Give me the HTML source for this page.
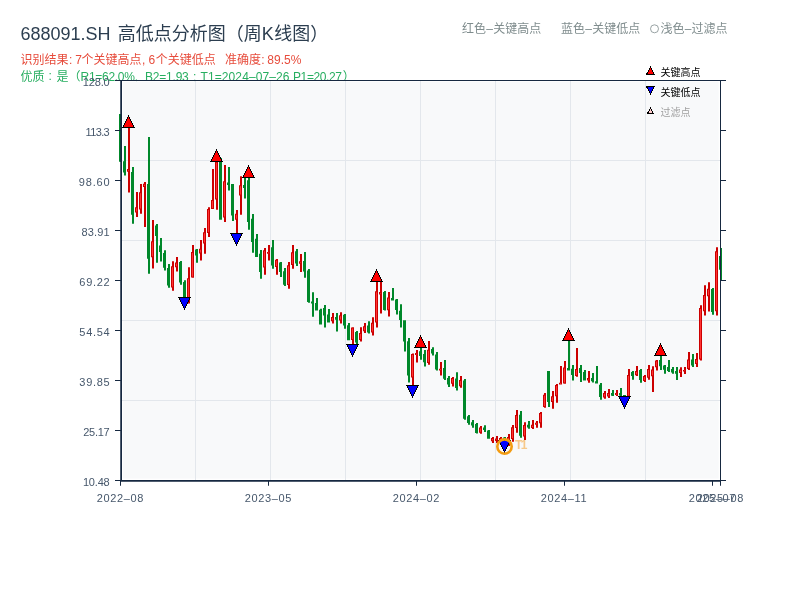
<!DOCTYPE html>
<html lang="zh"><head><meta charset="utf-8"><title>688091.SH 高低点分析图（周K线图）</title>
<style>html,body{margin:0;padding:0;background:#fff}body{width:800px;height:600px;overflow:hidden;position:relative}svg{position:absolute;left:0;top:0;display:block;will-change:transform}text{font-family:"Liberation Sans","Noto Sans CJK SC",sans-serif;white-space:pre}</style></head><body>
<svg width="800" height="600" viewBox="0 0 800 600">
<rect width="800" height="600" fill="#fff"/>
<g id="title">
<text x="20.5" y="40" font-size="18" fill="#2c3e50" textLength="90" lengthAdjust="spacing">688091.SH</text>
<text x="117.7" y="39.8" font-size="18" fill="#2c3e50" textLength="144" lengthAdjust="spacing">高低点分析图（周</text>
<text x="261.7" y="40" font-size="18" fill="#2c3e50">K</text>
<text x="274.2" y="39.8" font-size="18" fill="#2c3e50" textLength="54" lengthAdjust="spacing">线图）</text>
</g>
<g id="sub1">
<text x="20.6" y="63.9" font-size="12" fill="#e74c3c" textLength="48" lengthAdjust="spacing">识别结果</text>
<text x="69" y="63.7" font-size="12" fill="#e74c3c">:</text>
<text x="75.2" y="63.7" font-size="12" fill="#e74c3c">7</text>
<text x="81.5" y="63.9" font-size="12" fill="#e74c3c" textLength="60" lengthAdjust="spacing">个关键高点</text>
<text x="142" y="63.7" font-size="12" fill="#e74c3c">,</text>
<text x="148.6" y="63.7" font-size="12" fill="#e74c3c">6</text>
<text x="155.7" y="63.9" font-size="12" fill="#e74c3c" textLength="60" lengthAdjust="spacing">个关键低点</text>
<text x="225.1" y="63.9" font-size="12" fill="#e74c3c" textLength="36" lengthAdjust="spacing">准确度</text>
<text x="261.3" y="63.7" font-size="12" fill="#e74c3c">:</text>
<text x="267.3" y="63.7" font-size="12" fill="#e74c3c" textLength="34" lengthAdjust="spacing">89.5%</text>
</g>
<g id="sub2">
<text x="20.5" y="81.4" font-size="12" fill="#27ae60" textLength="24" lengthAdjust="spacing">优质</text>
<text x="48.6" y="80.4" font-size="12" fill="#27ae60">:</text>
<text x="56.6" y="81.4" font-size="12" fill="#27ae60" textLength="24" lengthAdjust="spacing">是（</text>
<text x="80.5" y="80.9" font-size="12" fill="#27ae60" textLength="57.5" lengthAdjust="spacing">R1=62.0%,</text>
<text x="145" y="80.9" font-size="12" fill="#27ae60" textLength="43.8" lengthAdjust="spacing">B2=1.93</text>
<text x="193" y="80.9" font-size="12" fill="#27ae60">;</text>
<text x="200.5" y="80.9" font-size="12" fill="#27ae60" textLength="89" lengthAdjust="spacing">T1=2024–07–26</text>
<text x="293" y="80.9" font-size="12" fill="#27ae60" textLength="49" lengthAdjust="spacing">P1=20.27</text>
<text x="342.7" y="81.4" font-size="12" fill="#27ae60">）</text>
</g>
<g id="toplegend">
<text x="462" y="33.2" font-size="12" fill="#7f8c8d" textLength="24" lengthAdjust="spacing">红色</text>
<text x="486.2" y="33.3" font-size="12" fill="#7f8c8d">–</text>
<text x="493.2" y="33.2" font-size="12" fill="#7f8c8d" textLength="48" lengthAdjust="spacing">关键高点</text>
<text x="561" y="33.2" font-size="12" fill="#7f8c8d" textLength="24" lengthAdjust="spacing">蓝色</text>
<text x="585.2" y="33.3" font-size="12" fill="#7f8c8d">–</text>
<text x="592.2" y="33.2" font-size="12" fill="#7f8c8d" textLength="48" lengthAdjust="spacing">关键低点</text>
<circle cx="654.5" cy="28.8" r="4" fill="none" stroke="#7f8c8d" stroke-width="0.8"/>
<text x="660.5" y="33.2" font-size="12" fill="#7f8c8d" textLength="24" lengthAdjust="spacing">浅色</text>
<text x="684.7" y="33.3" font-size="12" fill="#7f8c8d">–</text>
<text x="691.5" y="33.2" font-size="12" fill="#7f8c8d" textLength="36" lengthAdjust="spacing">过滤点</text>
</g>
<rect x="123" y="81.3" width="595.7" height="397.3" fill="#f8f9fa"/>
<rect x="120" y="80" width="601" height="1.5" fill="#fff"/>
<path d="M195 81h1V480h-1zM270 81h1V480h-1zM345 81h1V480h-1zM420 81h1V480h-1zM495 81h1V480h-1zM570 81h1V480h-1zM645 81h1V480h-1zM122 160H720v1H122zM122 240H720v1H122zM122 320H720v1H122zM122 400H720v1H122z" fill="#e3e7ec"/>
<g id="candles">
<path d="M120 114h2V162h-2zM119 114h3V161.75h-3zM124 146h2V175.6h-2zM123 161.2h3V172.5h-3zM132 167h2V223.75h-2zM131 172h3V214.75h-3zM148 137h2V273.75h-2zM147 184h3V258.75h-3zM156 224h2V262.75h-2zM155 225.6h3V236h-3zM160 238h2V261.5h-2zM159 245.6h3V251.9h-3zM164 250.25h2V270.6h-2zM163 253.1h3V267.75h-3zM168 264.1h2V287.75h-2zM167 268.1h3V285.6h-3zM180 261h2V284.75h-2zM179 261.9h3V282.5h-3zM184 280.25h2V303h-2zM183 282h3V298h-3zM196 249h2V262.75h-2zM195 249.4h3V255.6h-3zM220 158h2V219.75h-2zM219 158.75h3V219.75h-3zM228 166.9h2V190.6h-2zM227 182.5h3V185h-3zM232 184h2V221h-2zM231 184h3V215.6h-3zM244 177h2V198.5h-2zM243 185h3V188.1h-3zM248 171h2V229.75h-2zM247 180.25h3V221.9h-3zM252 214h2V252.75h-2zM251 218.75h3V241.9h-3zM256 234h2V256.9h-2zM255 238.75h3V256.9h-3zM260 250h2V278.75h-2zM259 253.75h3V271.9h-3zM272 240h2V268.75h-2zM271 247.25h3V265.6h-3zM280 261.9h2V276.9h-2zM279 262.5h3V271.9h-3zM284 268.1h2V286h-2zM283 271.25h3V284.75h-3zM296 249h2V266h-2zM295 251.25h3V263.5h-3zM304 251.9h2V277.75h-2zM303 261h3V271.5h-3zM308 269h2V302.75h-2zM307 270.6h3V301.9h-3zM312 292.25h2V316.7h-2zM311 301.5h3V303.5h-3zM316 298.1h2V310.6h-2zM315 303.1h3V310.6h-3zM320 308.75h2V324.4h-2zM319 309.75h3V324.4h-3zM324 305h2V327.5h-2zM323 308.1h3V315.6h-3zM328 309h2V322.6h-2zM327 314.4h3V322.5h-3zM336 313.1h2V331.5h-2zM335 316.9h3V319.75h-3zM344 314h2V328.75h-2zM343 314.75h3V325.6h-3zM348 323.1h2V340.25h-2zM347 325.25h3V340.25h-3zM356 331h2V345h-2zM355 331.9h3V342.5h-3zM368 321.25h2V333.5h-2zM367 325.6h3V332.5h-3zM384 291h2V310.6h-2zM383 291.9h3V310h-3zM392 288.1h2V300.6h-2zM391 298.1h3V300.6h-3zM396 299h2V314.4h-2zM395 299.4h3V310h-3zM400 304.2h2V327.5h-2zM399 310.8h3V320.1h-3zM404 320.25h2V351.5h-2zM403 320.25h3V341.5h-3zM408 338.1h2V382.5h-2zM407 341.25h3V375.6h-3zM420 341h2V359.75h-2zM419 351.25h3V356h-3zM424 350h2V366.5h-2zM423 354h3V362.25h-3zM432 347.25h2V355.6h-2zM431 349h3V353.5h-3zM436 351.9h2V370.6h-2zM435 354.4h3V369.4h-3zM444 360h2V380h-2zM443 368.1h3V378.75h-3zM448 376h2V386.9h-2zM447 378.1h3V384.4h-3zM456 372.25h2V390.6h-2zM455 378.5h3V388.1h-3zM464 379h2V419.75h-2zM463 380.6h3V418.75h-3zM468 415h2V424.75h-2zM467 416.25h3V423.1h-3zM472 420h2V427.75h-2zM471 422.25h3V425.6h-3zM476 423.1h2V433.5h-2zM475 424h3V433.1h-3zM484 425.25h2V431.9h-2zM483 427.5h3V430h-3zM488 430h2V438.75h-2zM487 430.6h3V438.75h-3zM504 437h2V446h-2zM503 437.5h3V441h-3zM520 411h2V437.8h-2zM519 414.75h3V435.7h-3zM528 421h2V428.7h-2zM527 424.7h3V427.5h-3zM548 371h2V406.9h-2zM547 371h3V401.9h-3zM568 334h2V370.6h-2zM567 368.1h3V370.6h-3zM572 365h2V380.6h-2zM571 368.75h3V375h-3zM580 365h2V381.9h-2zM579 368.1h3V373.1h-3zM584 370h2V380.6h-2zM583 371.9h3V380.6h-3zM592 373.1h2V382.6h-2zM591 378.1h3V381.25h-3zM596 366h2V383.6h-2zM595 381.25h3V383.6h-3zM600 383.1h2V399.75h-2zM599 384.75h3V396.9h-3zM612 390h2V396h-2zM611 393.1h3V395.8h-3zM620 388.1h2V397h-2zM619 393.1h3V395.6h-3zM624 395h2V402h-2zM623 395h3V397h-3zM632 371h2V379.8h-2zM631 371.9h3V376h-3zM640 369h2V382.75h-2zM639 370h3V380h-3zM660 349h2V370h-2zM659 360h3V366.25h-3zM664 365h2V373.75h-2zM663 365.6h3V369.75h-3zM668 360h2V371.9h-2zM667 366.9h3V371h-3zM672 366.9h2V373.75h-2zM671 369h3V372.5h-3zM676 366.9h2V380h-2zM675 371h3V373.75h-3zM692 354h2V366.9h-2zM691 359.4h3V365.6h-3zM712 288.1h2V314.75h-2zM711 289h3V311.9h-3zM720 248.1h2V280h-2zM719 256h3V269.75h-3z" fill="#00882a"/>
<path d="M128 121h2V192.5h-2zM127 169h3V171.75h-3zM136 192h2V217h-2zM135 207.25h3V212.5h-3zM140 184h2V213.75h-2zM139 192.25h3V209.4h-3zM144 182h2V227h-2zM143 183.75h3V187h-3zM152 220h2V268.5h-2zM151 241.25h3V257.25h-3zM172 261.25h2V290.75h-2zM171 266.25h3V287.5h-3zM176 257.1h2V271.5h-2zM175 262.5h3V267.25h-3zM188 267.25h2V303.5h-2zM187 278.25h3V298h-3zM192 245h2V277.75h-2zM191 251.9h3V277.5h-3zM200 240h2V260.6h-2zM199 248.75h3V253.5h-3zM204 228.1h2V253.75h-2zM203 232.25h3V243.5h-3zM208 207.25h2V237h-2zM207 209h3V233.1h-3zM212 169h2V209h-2zM211 200h3V209h-3zM216 155h2V209.75h-2zM215 161.75h3V199.4h-3zM224 165h2V221.9h-2zM223 181.25h3V217.5h-3zM236 210h2V239h-2zM235 213.75h3V219.75h-3zM240 176.25h2V214.75h-2zM239 185.25h3V195.6h-3zM264 248.1h2V274.75h-2zM263 250.25h3V267.5h-3zM268 245h2V260.6h-2zM267 251.9h3V253.75h-3zM276 259h2V274.75h-2zM275 259.75h3V266.9h-3zM288 261.9h2V288.75h-2zM287 265.25h3V285h-3zM292 245h2V268.75h-2zM291 252.25h3V265h-3zM300 254h2V271.9h-2zM299 261.25h3V263.75h-3zM332 313.1h2V323.5h-2zM331 316.9h3V321.25h-3zM340 312.25h2V323.5h-2zM339 315.25h3V320.6h-3zM352 327.25h2V350h-2zM351 327.5h3V340h-3zM360 327.25h2V341.5h-2zM359 333.1h3V340h-3zM364 323.1h2V333.1h-2zM363 326.25h3V331.25h-3zM372 317.25h2V335.6h-2zM371 322.75h3V332.5h-3zM376 275h2V327.5h-2zM375 291.25h3V322.6h-3zM380 281.9h2V313.6h-2zM379 291.9h3V294.4h-3zM388 291.9h2V316.5h-2zM387 297.4h3V310.25h-3zM412 353.5h2V391h-2zM411 354h3V377.5h-3zM416 350h2V362.5h-2zM415 353.1h3V355h-3zM428 341h2V364.75h-2zM427 349.75h3V363.1h-3zM440 361.9h2V375.6h-2zM439 368.75h3V370.6h-3zM452 376.9h2V386.5h-2zM451 378.1h3V383.75h-3zM460 376h2V387.75h-2zM459 380h3V386.25h-3zM480 426h2V433.75h-2zM479 427.5h3V432.75h-3zM492 436.9h2V443h-2zM491 438h3V441.3h-3zM496 436h2V443h-2zM495 438.4h3V441h-3zM500 436.9h2V443h-2zM499 437.9h3V440.5h-3zM508 434h2V446h-2zM507 437h3V441h-3zM512 425h2V441.8h-2zM511 427.2h3V439h-3zM516 410h2V432.75h-2zM515 415h3V428.1h-3zM524 422.25h2V440h-2zM523 425h3V436.5h-3zM532 420.1h2V428.9h-2zM531 424.8h3V428h-3zM536 421h2V427.75h-2zM535 422.7h3V424.8h-3zM540 412h2V427.7h-2zM539 413.1h3V423.3h-3zM544 393.1h2V407.75h-2zM543 394.75h3V406.9h-3zM552 391.1h2V408.75h-2zM551 396.25h3V401.9h-3zM556 384h2V402.75h-2zM555 385h3V396.25h-3zM560 366h2V384.6h-2zM559 382.75h3V384.6h-3zM564 361h2V383.7h-2zM563 367.5h3V383.6h-3zM576 348.1h2V376.8h-2zM575 369h3V376h-3zM588 371h2V382.75h-2zM587 378.1h3V380.6h-3zM604 391h2V398.75h-2zM603 393.1h3V397.5h-3zM608 389h2V398.1h-2zM607 393.1h3V396.5h-3zM616 390h2V396h-2zM615 393.1h3V395h-3zM628 369h2V397h-2zM627 375h3V396.5h-3zM636 366h2V376h-2zM635 371h3V375.25h-3zM644 375h2V381.9h-2zM643 376h3V381h-3zM648 365h2V379.75h-2zM647 369h3V377.75h-3zM652 366.25h2V391.9h-2zM651 369.4h3V376.25h-3zM656 360h2V370.6h-2zM655 360.6h3V367.25h-3zM680 367.25h2V376.9h-2zM679 369.4h3V373.1h-3zM684 366.9h2V374h-2zM683 370h3V371.5h-3zM688 352h2V370h-2zM687 359.4h3V369h-3zM696 353.1h2V366.9h-2zM695 359h3V364h-3zM700 305.25h2V360.4h-2zM699 308.1h3V359.5h-3zM704 285.25h2V315.6h-2zM703 295h3V311.25h-3zM708 282.25h2V311.5h-2zM707 288.75h3V296.25h-3zM716 247.25h2V315.6h-2zM715 251.25h3V311.25h-3z" fill="#cc0000"/>
<path d="M128 170h1V170.75h-1zM136 208.25h1V211.5h-1zM140 193.25h1V208.4h-1zM144 184.75h1V186h-1zM152 242.25h1V256.25h-1zM172 267.25h1V286.5h-1zM176 263.5h1V266.25h-1zM188 279.25h1V297h-1zM192 252.9h1V276.5h-1zM200 249.75h1V252.5h-1zM204 233.25h1V242.5h-1zM208 210h1V232.1h-1zM212 201h1V208h-1zM216 162.75h1V198.4h-1zM224 182.25h1V216.5h-1zM236 214.75h1V218.75h-1zM240 186.25h1V194.6h-1zM264 251.25h1V266.5h-1zM268 252.5h1V253.15h-1zM276 260.75h1V265.9h-1zM288 266.25h1V284h-1zM292 253.25h1V264h-1zM300 262.25h1V262.75h-1zM332 317.9h1V320.25h-1zM340 316.25h1V319.6h-1zM352 328.5h1V339h-1zM360 334.1h1V339h-1zM364 327.25h1V330.25h-1zM372 323.75h1V331.5h-1zM376 292.25h1V321.6h-1zM380 292.9h1V293.4h-1zM388 298.4h1V309.25h-1zM412 355h1V376.5h-1zM416 353.7h1V354.4h-1zM428 350.75h1V362.1h-1zM440 369.35h1V370h-1zM452 379.1h1V382.75h-1zM460 381h1V385.25h-1zM480 428.5h1V431.75h-1zM492 439h1V440.3h-1zM496 439.4h1V440h-1zM500 438.9h1V439.5h-1zM508 438h1V440h-1zM512 428.2h1V438h-1zM516 416h1V427.1h-1zM524 426h1V435.5h-1zM532 425.8h1V427h-1zM536 423.3h1V424.2h-1zM540 414.1h1V422.3h-1zM544 395.75h1V405.9h-1zM552 397.25h1V400.9h-1zM556 386h1V395.25h-1zM560 383.35h1V384h-1zM564 368.5h1V382.6h-1zM576 370h1V375h-1zM588 379.1h1V379.6h-1zM604 394.1h1V396.5h-1zM608 394.1h1V395.5h-1zM616 393.7h1V394.4h-1zM628 376h1V395.5h-1zM636 372h1V374.25h-1zM644 377h1V380h-1zM648 370h1V376.75h-1zM652 370.4h1V375.25h-1zM656 361.6h1V366.25h-1zM680 370.4h1V372.1h-1zM684 370.6h1V370.9h-1zM688 360.4h1V368h-1zM696 360h1V363h-1zM700 309.1h1V358.5h-1zM704 296h1V310.25h-1zM708 289.75h1V295.25h-1zM716 252.25h1V310.25h-1z" fill="#ff3434"/>
</g>
<g id="markers" shape-rendering="crispEdges" stroke="#000" stroke-width="1" stroke-linejoin="miter">
<polygon points="128.5,116 122.6,127.5 134.4,127.5" fill="#ff0000"/>
<polygon points="216.5,150 210.6,161.5 222.4,161.5" fill="#ff0000"/>
<polygon points="248.5,166 242.6,177.5 254.4,177.5" fill="#ff0000"/>
<polygon points="376.5,270 370.6,281.5 382.4,281.5" fill="#ff0000"/>
<polygon points="420.5,336 414.6,347.5 426.4,347.5" fill="#ff0000"/>
<polygon points="568.5,329 562.6,340.5 574.4,340.5" fill="#ff0000"/>
<polygon points="660.5,344 654.6,355.5 666.4,355.5" fill="#ff0000"/>
<polygon points="178.6,297.5 190.4,297.5 184.5,309" fill="#0000ff"/>
<polygon points="230.6,233.5 242.4,233.5 236.5,245" fill="#0000ff"/>
<polygon points="346.6,344.5 358.4,344.5 352.5,356" fill="#0000ff"/>
<polygon points="406.6,385.5 418.4,385.5 412.5,397" fill="#0000ff"/>
<polygon points="498.6,440.5 510.4,440.5 504.5,452" fill="#0000ff"/>
<polygon points="618.6,396.5 630.4,396.5 624.5,408" fill="#0000ff"/>
</g>
<circle cx="504.5" cy="446.6" r="7.2" fill="none" stroke="#f39c12" stroke-width="2.6"/>
<text x="514.9" y="448.9" font-size="12" font-weight="bold" fill="#f7c98a">T<tspan dx="-1.6">1</tspan></text>
<path d="M120.25 80H722V81H122V480H721V481.75H120.25zM720 80h1V481h-1zM115 80h5.5v1h-5.5zM721 80h5v1h-5zM115 130h5.5v1h-5.5zM721 130h5v1h-5zM115 180h5.5v1h-5.5zM721 180h5v1h-5zM115 230h5.5v1h-5.5zM721 230h5v1h-5zM115 280h5.5v1h-5.5zM721 280h5v1h-5zM115 330h5.5v1h-5.5zM721 330h5v1h-5zM115 380h5.5v1h-5.5zM721 380h5v1h-5zM115 430h5.5v1h-5.5zM721 430h5v1h-5zM115 480h5.5v1h-5.5zM721 480h5v1h-5zM120 481h1V485.8h-1zM268 481h1V485.8h-1zM416 481h1V485.8h-1zM564 481h1V485.8h-1zM712 481h1V485.8h-1zM720 481h1V485.8h-1z" fill="#162840"/>
<g id="ylabels">
<text x="82.7" y="86" font-size="11" fill="#46576b" textLength="27" lengthAdjust="spacing">128.0</text>
<text x="85.5" y="136" font-size="11" fill="#46576b" textLength="24.2" lengthAdjust="spacing">113.3</text>
<text x="78.7" y="186" font-size="11" fill="#46576b" textLength="31" lengthAdjust="spacing">98.60</text>
<text x="81.4" y="236" font-size="11" fill="#46576b" textLength="28.3" lengthAdjust="spacing">83.91</text>
<text x="79.3" y="286" font-size="11" fill="#46576b" textLength="30.4" lengthAdjust="spacing">69.22</text>
<text x="79.3" y="336" font-size="11" fill="#46576b" textLength="30.4" lengthAdjust="spacing">54.54</text>
<text x="79.3" y="386" font-size="11" fill="#46576b" textLength="30.4" lengthAdjust="spacing">39.85</text>
<text x="83.2" y="436" font-size="11" fill="#46576b" textLength="26.5" lengthAdjust="spacing">25.17</text>
<text x="82.95" y="486" font-size="11" fill="#46576b" textLength="26.75" lengthAdjust="spacing">10.48</text>
</g>
<g id="xlabels" letter-spacing="0.63">
<text x="96.85" y="502" font-size="11" fill="#46576b">2022–08</text>
<text x="244.85" y="502" font-size="11" fill="#46576b">2023–05</text>
<text x="392.85" y="502" font-size="11" fill="#46576b">2024–02</text>
<text x="540.85" y="502" font-size="11" fill="#46576b">2024–11</text>
<text x="688.85" y="502" font-size="11" fill="#46576b">2025–07</text>
<text x="696.85" y="502" font-size="11" fill="#46576b">2025–08</text>
</g>
<g id="legend">
<g shape-rendering="crispEdges" stroke="#000" stroke-width="1">
<polygon points="650.5,67 646.6,74.4 654.4,74.4" fill="#ff0000"/>
<polygon points="646.6,86.6 654.4,86.6 650.5,94" fill="#0000ff"/>
<polygon points="650.5,108 647.7,113.2 653.3,113.2" fill="#ffcccc"/>
</g>
<text x="660.4" y="75.6" font-size="10" fill="#000" textLength="40" lengthAdjust="spacing">关键高点</text>
<text x="660.4" y="95.6" font-size="10" fill="#000" textLength="40" lengthAdjust="spacing">关键低点</text>
<text x="660.4" y="115.6" font-size="10" fill="#a0a0a0" textLength="30" lengthAdjust="spacing">过滤点</text>
</g>
</svg></body></html>
